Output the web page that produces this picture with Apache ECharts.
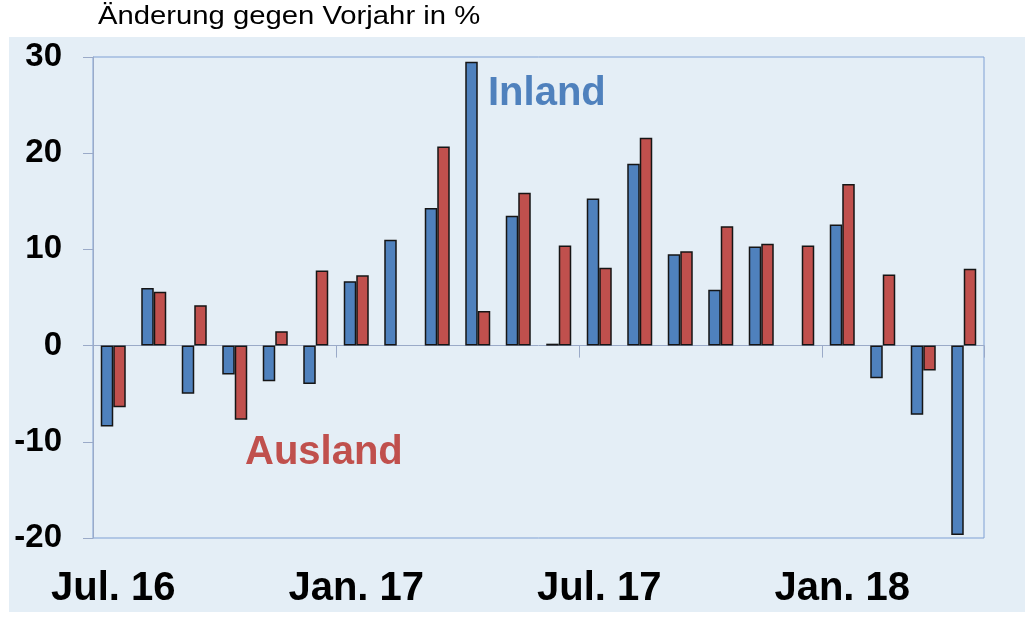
<!DOCTYPE html>
<html>
<head>
<meta charset="utf-8">
<script src="https://cdn.jsdelivr.net/npm/echarts@6/dist/echarts.min.js"></script>
<style>
  html, body { margin: 0; padding: 0; background: #fff; }
  #chart { width: 1036px; height: 621px; }
</style>
</head>
<body>
<div id="chart"></div>
<script>
// Monate Jul. 16 bis Apr. 18
var months = ['Jul. 16', 'Aug. 16', 'Sep. 16', 'Okt. 16', 'Nov. 16', 'Dez. 16',
  'Jan. 17', 'Feb. 17', 'Mrz. 17', 'Apr. 17', 'Mai. 17', 'Jun. 17',
  'Jul. 17', 'Aug. 17', 'Sep. 17', 'Okt. 17', 'Nov. 17', 'Dez. 17',
  'Jan. 18', 'Feb. 18', 'Mrz. 18', 'Apr. 18'];

var inland = [-8.4, 6.0, -5.0, -3.0, -3.7, -4.0, 6.7, 11.0, 14.3, 29.5, 13.5, 0.2,
  15.3, 18.9, 9.5, 5.8, 10.3, null, 12.6, -3.4, -7.2, -19.7];

var ausland = [-6.4, 5.6, 4.2, -7.7, 1.5, 7.8, 7.3, null, 20.7, 3.6, 15.9, 10.4,
  8.1, 21.6, 9.8, 12.4, 10.6, 10.4, 16.8, 7.4, -2.6, 8.0];

var yTicks = { min: -20, max: 30, interval: 10 };

var font = "'Liberation Sans', Arial, sans-serif";
var blue = '#4F81BD';
var red = '#C0504D';
var axisGrey = '#9AAAC8';

var chart = echarts.init(document.getElementById('chart'));

var option = {
  backgroundColor: '#fff',
  animation: false,
  textStyle: { fontFamily: font },
  graphic: [
    {
      type: 'rect',
      z: -10,
      shape: { x: 9, y: 37, width: 1016, height: 575 },
      style: { fill: '#E4EEF6' }
    },
    {
      type: 'text',
      x: 98, y: 5,
      scaleX: 1.17,
      style: { text: 'Änderung gegen Vorjahr in %', fill: '#000', font: '25px ' + font }
    },
    {
      type: 'text',
      x: 488, y: 74,
      style: { text: 'Inland', fill: blue, font: 'bold 40px ' + font }
    },
    {
      type: 'text',
      x: 245, y: 433,
      style: { text: 'Ausland', fill: red, font: 'bold 40px ' + font }
    }
  ],
  grid: {
    left: 93, right: 52, top: 57, bottom: 83,
    show: true,
    borderColor: '#7FA0D4',
    borderWidth: 1,
    backgroundColor: 'transparent'
  },
  xAxis: [
    {
      type: 'category',
      data: months,
      position: 'bottom',
      axisLine: { onZero: true, lineStyle: { color: axisGrey, width: 1 } },
      axisTick: { show: true, interval: 5, length: 12, lineStyle: { color: axisGrey } },
      axisLabel: { show: false },
      splitLine: { show: false }
    },
    {
      type: 'category',
      data: months,
      position: 'bottom',
      axisLine: { show: false, onZero: false },
      axisTick: { show: false },
      axisLabel: {
        interval: 5,
        margin: 31,
        color: '#000',
        fontSize: 40,
        fontWeight: 'bold',
        fontFamily: font
      },
      splitLine: { show: false }
    }
  ],
  yAxis: {
    type: 'value',
    min: yTicks.min,
    max: yTicks.max,
    interval: yTicks.interval,
    axisLine: { show: true, lineStyle: { color: axisGrey, width: 1 } },
    axisTick: { show: true, length: 10, lineStyle: { color: axisGrey } },
    axisLabel: {
      margin: 31,
      color: '#000',
      fontSize: 33,
      fontWeight: 'bold',
      fontFamily: font
    },
    splitLine: { show: false }
  },
  series: [
    {
      name: 'Inland',
      type: 'bar',
      xAxisIndex: 0,
      data: inland,
      barWidth: 12.5,
      barGap: '0%',
      itemStyle: { color: blue, borderColor: '#151515', borderWidth: 1.5 }
    },
    {
      name: 'Ausland',
      type: 'bar',
      xAxisIndex: 0,
      data: ausland,
      barWidth: 12.5,
      barGap: '0%',
      itemStyle: { color: red, borderColor: '#151515', borderWidth: 1.5 }
    }
  ]
};

chart.setOption(option);
</script>
</body>
</html>
